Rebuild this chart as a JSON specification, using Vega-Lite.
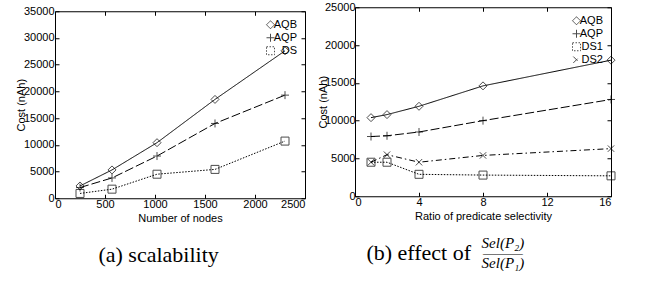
{
  "$schema": "https://vega.github.io/schema/vega-lite/v6.json",
  "padding": {"left": 14, "top": 0, "right": 5, "bottom": 0},
  "spacing": 10,
  "center": true,
  "resolve": {"scale": {"shape": "independent", "strokeDash": "independent"}, "legend": {"shape": "independent", "strokeDash": "independent"}},
  "config": {
    "font": "Liberation Sans",
    "view": {"stroke": "black", "strokeWidth": 1},
    "axis": {
      "grid": false, "domain": false, "tickColor": "black", "tickSize": -4, "format": "d",
      "labelFont": "Liberation Sans", "labelFontSize": 11, "labelColor": "black",
      "titleFont": "Liberation Sans", "titleFontSize": 11, "titleFontWeight": "normal", "titleColor": "black"
    },
    "axisX": {"labelPadding": 4, "titlePadding": 3},
    "axisY": {"labelPadding": 5, "titlePadding": -3},
    "legend": {"labelFont": "Liberation Sans", "labelFontSize": 11, "labelColor": "black", "rowPadding": 0, "symbolStrokeColor": "black", "symbolFillColor": "transparent", "symbolStrokeWidth": 1, "symbolSize": 64, "padding": 0},
    "title": {"font": "Liberation Serif", "fontSize": 22, "fontWeight": "normal", "color": "black", "orient": "bottom", "anchor": "start", "offset": 22}
  },
  "hconcat": [
    {
      "width": 250, "height": 187,
      "title": {"text": "(a) scalability", "dx": 83},
      "data": {"values": [
        {"nodes": 250, "cost": 2300, "series": "AQB"},
        {"nodes": 570, "cost": 5300, "series": "AQB"},
        {"nodes": 1020, "cost": 10400, "series": "AQB"},
        {"nodes": 1600, "cost": 18500, "series": "AQB"},
        {"nodes": 2300, "cost": 27600, "series": "AQB"},
        {"nodes": 250, "cost": 2000, "series": "AQP"},
        {"nodes": 570, "cost": 3800, "series": "AQP"},
        {"nodes": 1020, "cost": 7900, "series": "AQP"},
        {"nodes": 1600, "cost": 14000, "series": "AQP"},
        {"nodes": 2300, "cost": 19300, "series": "AQP"},
        {"nodes": 250, "cost": 900, "series": "DS"},
        {"nodes": 570, "cost": 1700, "series": "DS"},
        {"nodes": 1020, "cost": 4500, "series": "DS"},
        {"nodes": 1600, "cost": 5400, "series": "DS"},
        {"nodes": 2300, "cost": 10700, "series": "DS"}
      ]},
      "resolve": {"axis": {"x": "independent", "y": "independent"}},
      "layer": [
        {
          "mark": {"type": "line", "color": "black", "strokeWidth": 1},
          "encoding": {
            "x": {"field": "nodes", "type": "quantitative", "title": "Number of nodes", "scale": {"domain": [0, 2500], "nice": false}, "axis": {"values": [0, 500, 1000, 1500, 2000, 2500]}},
            "y": {"field": "cost", "type": "quantitative", "title": "Cost (nAh)", "scale": {"domain": [0, 35000], "nice": false}, "axis": {"values": [0, 5000, 10000, 15000, 20000, 25000, 30000, 35000]}},
            "strokeDash": {"field": "series", "type": "nominal", "title": null,
              "scale": {"domain": ["AQB", "AQP", "DS"], "range": [[1, 0], [9, 3], [1.5, 1.5]]},
              "legend": {"orient": "top-right", "offset": 8, "labelAlign": "right", "symbolOffset": 40, "labelOffset": 21}}
          }
        },
        {
          "mark": {"type": "point", "color": "black", "filled": false, "size": 64, "strokeWidth": 1},
          "encoding": {
            "x": {"field": "nodes", "type": "quantitative", "axis": null},
            "y": {"field": "cost", "type": "quantitative", "axis": null},
            "shape": {"field": "series", "type": "nominal", "title": null,
              "scale": {"domain": ["AQB", "AQP", "DS"], "range": ["diamond", "M-1,0L1,0M0,-1L0,1", "square"]},
              "legend": {"orient": "top-right", "offset": 8, "labelAlign": "right", "symbolOffset": 40, "labelOffset": 21}}
          }
        },
        {
          "mark": {"type": "point", "opacity": 0},
          "encoding": {
            "x": {"field": "nodes", "type": "quantitative", "axis": {"orient": "top", "labels": false, "title": null, "values": [0, 500, 1000, 1500, 2000, 2500]}},
            "y": {"field": "cost", "type": "quantitative", "axis": {"orient": "right", "labels": false, "title": null, "values": [0, 5000, 10000, 15000, 20000, 25000, 30000, 35000]}}
          }
        }
      ]
    },
    {
      "title": {"text": ["Sel(P₂)", "———", "Sel(P₁)"], "fontStyle": "italic", "fontSize": 15, "lineHeight": 10, "align": "center", "offset": 0, "dx": 186, "dy": -29},
      "resolve": {"scale": {"shape": "independent", "strokeDash": "independent"}, "legend": {"shape": "independent", "strokeDash": "independent"}},
      "vconcat": [
        {
          "width": 256, "height": 189,
          "title": {"text": "(b) effect of", "dx": 49},
          "data": {"values": [
            {"ratio": 1, "cost": 10400, "series": "AQB"},
            {"ratio": 2, "cost": 10800, "series": "AQB"},
            {"ratio": 4, "cost": 11900, "series": "AQB"},
            {"ratio": 8, "cost": 14600, "series": "AQB"},
            {"ratio": 16, "cost": 18000, "series": "AQB"},
            {"ratio": 1, "cost": 7900, "series": "AQP"},
            {"ratio": 2, "cost": 8000, "series": "AQP"},
            {"ratio": 4, "cost": 8500, "series": "AQP"},
            {"ratio": 8, "cost": 10000, "series": "AQP"},
            {"ratio": 16, "cost": 12800, "series": "AQP"},
            {"ratio": 1, "cost": 4500, "series": "DS1"},
            {"ratio": 2, "cost": 4500, "series": "DS1"},
            {"ratio": 4, "cost": 2900, "series": "DS1"},
            {"ratio": 8, "cost": 2800, "series": "DS1"},
            {"ratio": 16, "cost": 2700, "series": "DS1"},
            {"ratio": 1, "cost": 4500, "series": "DS2"},
            {"ratio": 2, "cost": 5500, "series": "DS2"},
            {"ratio": 4, "cost": 4500, "series": "DS2"},
            {"ratio": 8, "cost": 5400, "series": "DS2"},
            {"ratio": 16, "cost": 6300, "series": "DS2"}
          ]},
          "resolve": {"axis": {"x": "independent", "y": "independent"}},
          "layer": [
            {
              "mark": {"type": "line", "color": "black", "strokeWidth": 1},
              "encoding": {
                "x": {"field": "ratio", "type": "quantitative", "title": "Ratio of predicate selectivity", "scale": {"domain": [0, 16], "nice": false}, "axis": {"values": [0, 4, 8, 12, 16]}},
                "y": {"field": "cost", "type": "quantitative", "title": "Cost (nAh)", "scale": {"domain": [0, 25000], "nice": false}, "axis": {"values": [0, 5000, 10000, 15000, 20000, 25000], "titlePadding": -4, "labelPadding": 4}},
                "strokeDash": {"field": "series", "type": "nominal", "title": null,
                  "scale": {"domain": ["AQB", "AQP", "DS1", "DS2"], "range": [[1, 0], [9, 3], [1.5, 1.5], [6, 3, 1.5, 3]]},
                  "legend": {"orient": "top-right", "offset": 8, "labelAlign": "right", "symbolOffset": 40, "labelOffset": 21}}
              }
            },
            {
              "mark": {"type": "point", "color": "black", "filled": false, "size": 64, "strokeWidth": 1},
              "encoding": {
                "x": {"field": "ratio", "type": "quantitative", "axis": null},
                "y": {"field": "cost", "type": "quantitative", "axis": null},
                "shape": {"field": "series", "type": "nominal", "title": null,
                  "scale": {"domain": ["AQB", "AQP", "DS1", "DS2"], "range": ["diamond", "M-1,0L1,0M0,-1L0,1", "square", "M-0.8,-0.8L0.8,0.8M-0.8,0.8L0.8,-0.8"]},
                  "legend": {"orient": "top-right", "offset": 8, "labelAlign": "right", "symbolOffset": 40, "labelOffset": 21}}
              }
            },
            {
              "mark": {"type": "point", "opacity": 0},
              "encoding": {
                "x": {"field": "ratio", "type": "quantitative", "axis": {"orient": "top", "labels": false, "title": null, "values": [0, 4, 8, 12, 16]}},
                "y": {"field": "cost", "type": "quantitative", "axis": {"orient": "right", "labels": false, "title": null, "values": [0, 5000, 10000, 15000, 20000, 25000]}}
              }
            }
          ]
        }
      ]
    }
  ]
}
